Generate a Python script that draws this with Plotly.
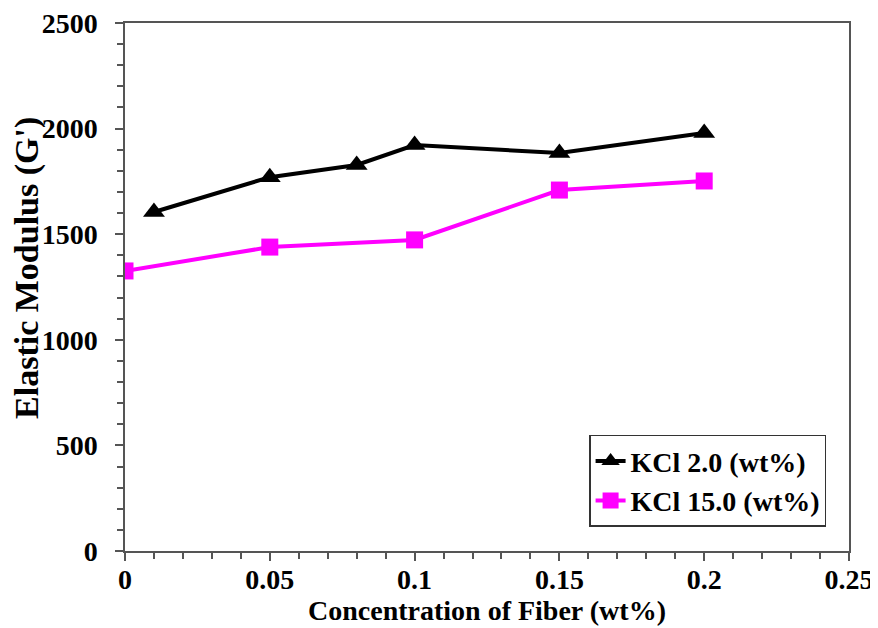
import plotly.graph_objects as go

x_kcl2 = [0.01, 0.05, 0.08, 0.10, 0.15, 0.20]
g_kcl2 = [1605, 1770, 1828, 1922, 1884, 1979]
x_kcl15 = [0.0, 0.05, 0.10, 0.15, 0.20]
g_kcl15 = [1326, 1439, 1473, 1709, 1752]
names = ["KCl 2.0 (wt%)", "KCl 15.0 (wt%)"]
x_ticks = [0, 0.05, 0.1, 0.15, 0.2, 0.25]
y_ticks = [0, 500, 1000, 1500, 2000, 2500]
x_title = "Concentration of Fiber (wt%)"
y_title = "Elastic Modulus (G')"

FONT = "Liberation Serif"

fig = go.Figure()
fig.add_trace(go.Scatter(x=x_kcl2, y=g_kcl2, mode="lines+markers", name="<b>" + names[0] + "</b>",
                         line=dict(color="black", width=4),
                         marker=dict(symbol="triangle-up", size=19, color="black")))
fig.add_trace(go.Scatter(x=x_kcl15, y=g_kcl15, mode="lines+markers", name="<b>" + names[1] + "</b>",
                         line=dict(color="#FF00FF", width=4),
                         marker=dict(symbol="square", size=17, color="#FF00FF")))

axis_common = dict(showline=True, linecolor="#555", linewidth=1.5, mirror=True,
                   showgrid=False, zeroline=False, ticks="outside", tickcolor="#555",
                   ticklen=8, tickwidth=1.5, automargin=False,
                   ticklabeloverflow="allow",
                   tickfont=dict(family=FONT, size=28, color="black"))

fig.update_xaxes(range=[0, 0.25], tickvals=x_ticks,
                 ticktext=["<b>%g</b>" % v for v in x_ticks],
                 minor=dict(dtick=0.01, ticks="outside", ticklen=6, tickcolor="#555", tickwidth=1.5),
                 title=dict(text="<b>" + x_title + "</b>",
                            font=dict(family=FONT, size=28, color="black"), standoff=0),
                 ticklabelstandoff=-5,
                 **axis_common)
fig.update_yaxes(range=[0, 2500], tickvals=y_ticks,
                 ticktext=["<b>%d</b>" % v for v in y_ticks],
                 minor=dict(dtick=100, ticks="outside", ticklen=6, tickcolor="#555", tickwidth=1.5),
                 ticklabelstandoff=12,
                 **axis_common)

# y-axis title placed as a rotated annotation to match the reference position
fig.add_annotation(text="<b>" + y_title + "</b>", textangle=-90,
                   xref="paper", yref="paper", x=-0.1354, y=0.536,
                   xanchor="center", yanchor="middle", showarrow=False,
                   font=dict(family=FONT, size=34, color="black"))

# page body has an 8px margin, so the figure is 8px smaller and shifted
fig.update_layout(
    width=870, height=620,
    margin=dict(l=117, r=29, t=15, b=77),
    plot_bgcolor="white", paper_bgcolor="white",
    font=dict(family=FONT, color="black"),
    showlegend=True,
    legend=dict(x=0.641, y=0.22, xanchor="left", yanchor="top",
                bordercolor="#333", borderwidth=1.5, bgcolor="white",
                font=dict(family=FONT, size=28, color="black"),
                itemwidth=30, tracegroupgap=0),
)

fig.write_html("out.html")
